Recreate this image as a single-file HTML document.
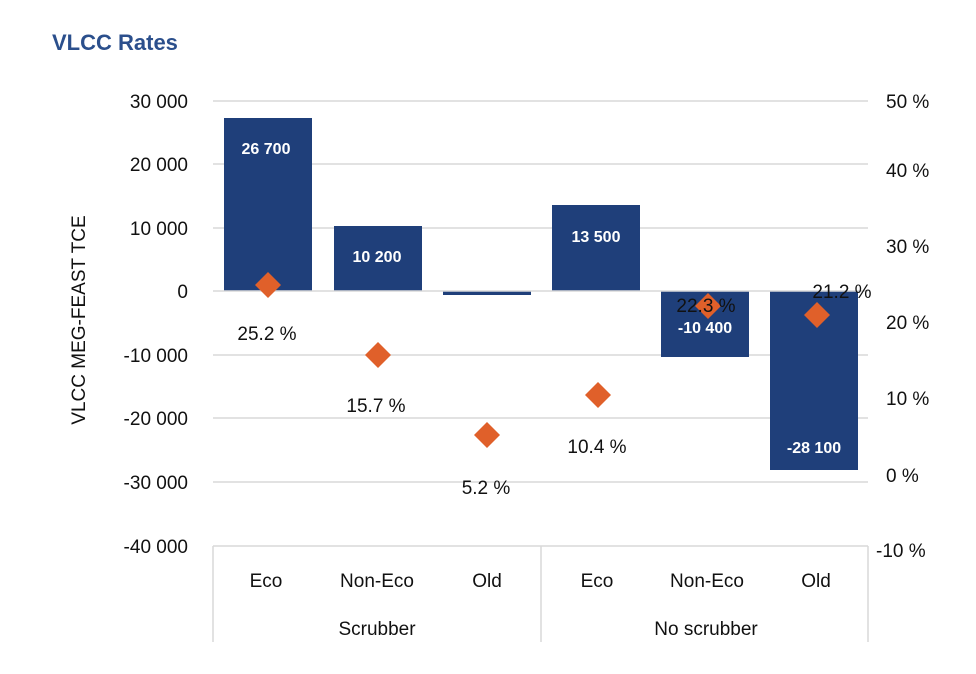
<!DOCTYPE html>
<html><head><meta charset="utf-8"><style>body{margin:0;background:#fff}</style></head><body>
<svg width="976" height="669" viewBox="0 0 976 669" xmlns="http://www.w3.org/2000/svg" font-family="Liberation Sans, sans-serif">
<rect width="976" height="669" fill="#fff"/>
<text x="52" y="50" font-size="22" font-weight="bold" fill="#2b4f8c">VLCC Rates</text>
<g stroke="#d9d9d9" stroke-width="1.5">
<line x1="213" y1="101" x2="868" y2="101"/><line x1="213" y1="164" x2="868" y2="164"/>
<line x1="213" y1="228" x2="868" y2="228"/><line x1="213" y1="355" x2="868" y2="355"/>
<line x1="213" y1="418" x2="868" y2="418"/><line x1="213" y1="482" x2="868" y2="482"/>
<line x1="213" y1="546" x2="868" y2="546"/>
<line x1="213" y1="546" x2="213" y2="642"/><line x1="541" y1="546" x2="541" y2="642"/><line x1="868" y1="546" x2="868" y2="642"/>
</g>
<g font-size="19" fill="#111" text-anchor="end">
<text x="188" y="108">30 000</text><text x="188" y="171">20 000</text><text x="188" y="235">10 000</text>
<text x="188" y="298">0</text><text x="188" y="362">-10 000</text><text x="188" y="425">-20 000</text>
<text x="188" y="489">-30 000</text><text x="188" y="553">-40 000</text>
</g>
<g font-size="19" fill="#111">
<text x="886" y="108">50 %</text><text x="886" y="177">40 %</text><text x="886" y="253">30 %</text>
<text x="886" y="329">20 %</text><text x="886" y="405">10 %</text><text x="886" y="482">0 %</text><text x="876" y="557">-10 %</text>
</g>
<text transform="translate(85,320) rotate(-90)" font-size="19" fill="#111" text-anchor="middle">VLCC MEG-FEAST TCE</text>
<g fill="#1f3f7a">
<rect x="224" y="118" width="88" height="173"/>
<rect x="334" y="226" width="88" height="65"/>
<rect x="443" y="291" width="88" height="4"/>
<rect x="552" y="205" width="88" height="86"/>
<rect x="661" y="291" width="88" height="66"/>
<rect x="770" y="291" width="88" height="179"/>
</g>
<line x1="213" y1="291" x2="868" y2="291" stroke="#d9d9d9" stroke-width="1.5"/>
<g font-size="16" font-weight="bold" fill="#fff" text-anchor="middle">
<text x="266" y="154">26 700</text><text x="377" y="262">10 200</text><text x="596" y="242">13 500</text>
<text x="705" y="333">-10 400</text><text x="814" y="453">-28 100</text>
</g>
<g fill="#e0602a">
<path d="M268 272 l13 13 -13 13 -13 -13z"/><path d="M378 342 l13 13 -13 13 -13 -13z"/>
<path d="M487 422 l13 13 -13 13 -13 -13z"/><path d="M598 382 l13 13 -13 13 -13 -13z"/>
<path d="M708 293 l13 13 -13 13 -13 -13z"/><path d="M817 302 l13 13 -13 13 -13 -13z"/>
</g>
<g font-size="19" fill="#111" text-anchor="middle">
<text x="267" y="340">25.2 %</text><text x="376" y="412">15.7 %</text><text x="486" y="494">5.2 %</text>
<text x="597" y="453">10.4 %</text><text x="706" y="312">22.3 %</text><text x="842" y="298">21.2 %</text>
</g>
<g font-size="19" fill="#111" text-anchor="middle">
<text x="266" y="587">Eco</text><text x="377" y="587">Non-Eco</text><text x="487" y="587">Old</text>
<text x="597" y="587">Eco</text><text x="707" y="587">Non-Eco</text><text x="816" y="587">Old</text>
<text x="377" y="635">Scrubber</text><text x="706" y="635">No scrubber</text>
</g>
</svg>
</body></html>
